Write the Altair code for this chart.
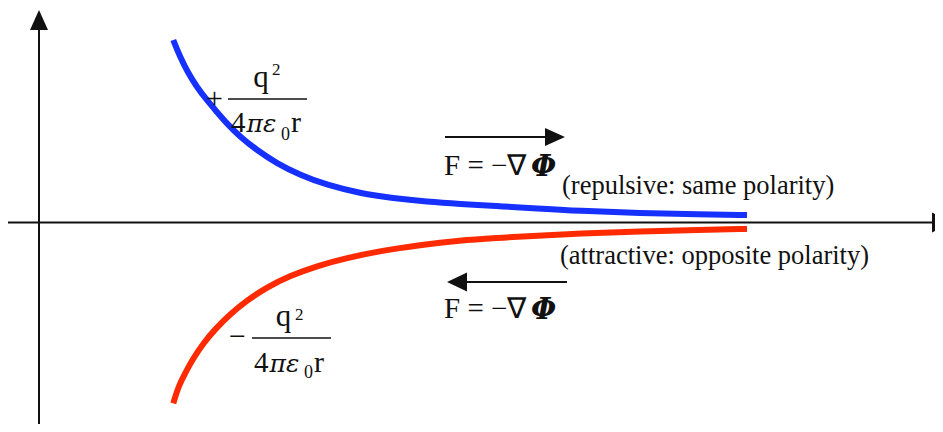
import altair as alt
import pandas as pd

# ---- data (r in 100-px units from the vertical axis, energy in 100-px units) ----
r_repulsive = [1.343, 1.41, 1.493, 1.577, 1.677, 1.777, 1.877, 2.01, 2.177, 2.377, 2.61, 2.877,
               3.21, 3.543, 3.877, 4.21, 4.58, 4.91, 5.41, 6.01, 6.61, 7.08]
u_repulsive = [1.825, 1.658, 1.492, 1.358, 1.225, 1.108, 0.992, 0.858, 0.725, 0.592, 0.475, 0.375,
               0.292, 0.242, 0.208, 0.185, 0.165, 0.145, 0.115, 0.095, 0.08, 0.075]
r_attractive = [1.343, 1.393, 1.46, 1.543, 1.643, 1.76, 1.91, 2.077, 2.277, 2.51, 2.777, 3.077,
                3.41, 3.81, 4.21, 4.58, 4.91, 5.41, 6.01, 6.61, 7.08]
u_attractive = [-1.808, -1.642, -1.508, -1.358, -1.208, -1.068, -0.918, -0.781, -0.649, -0.533, -0.435, -0.355,
                -0.285, -0.225, -0.18, -0.155, -0.135, -0.11, -0.09, -0.072, -0.065]

label_repulsive = "(repulsive: same polarity)"
label_attractive = "(attractive: opposite polarity)"
force_text = "F = \u2212\u2207"
phi_text = "\u03a6"
greek_den = "\u03c0\u03b5"

BLUE = "#1530ff"
RED = "#ff2a00"
INK = "#111111"
SERIF = "Liberation Serif"
GREEK = "DejaVu Serif"

W, H = 927, 416
X_DOM = [-0.31, 8.96]
Y_DOM = [-2.015, 2.145]
xs = alt.Scale(domain=X_DOM, nice=False, zero=False)
ys = alt.Scale(domain=Y_DOM, nice=False, zero=False)

ONE = pd.DataFrame({"k": [0]})


def px_to_r(sx):
    return (sx - 39) / 100.0


def px_to_u(sy):
    return (222.5 - sy) / 100.0


curves = pd.DataFrame({
    "r": r_repulsive + r_attractive,
    "u": u_repulsive + u_attractive,
    "kind": ["repulsive"] * len(r_repulsive) + ["attractive"] * len(r_attractive),
})

curve_layer = alt.Chart(curves).mark_line(strokeWidth=6, interpolate="basis", strokeCap="butt").encode(
    x=alt.X("r:Q", scale=xs, axis=None),
    y=alt.Y("u:Q", scale=ys, axis=None),
    color=alt.Color("kind:N", scale=alt.Scale(domain=["repulsive", "attractive"], range=[BLUE, RED]), legend=None),
    detail="kind:N",
)


def hline(sx1, sx2, sy, width=2.0):
    return alt.Chart(ONE).mark_rule(color=INK, strokeWidth=width).encode(
        x=alt.datum(px_to_r(sx1)), x2=alt.datum(px_to_r(sx2)), y=alt.datum(px_to_u(sy))
    )


def vline(sx, sy1, sy2, width=2.0):
    return alt.Chart(ONE).mark_rule(color=INK, strokeWidth=width).encode(
        x=alt.datum(px_to_r(sx)), y=alt.datum(px_to_u(sy1)), y2=alt.datum(px_to_u(sy2))
    )


def head(sx, sy, path, size=400):
    return alt.Chart(ONE).mark_point(shape=path, size=size, filled=True, color=INK, opacity=1, strokeWidth=0).encode(
        x=alt.datum(px_to_r(sx)), y=alt.datum(px_to_u(sy))
    )


def txt(s, sx, sy, size, align="left", style="normal", weight="normal", font=SERIF):
    return alt.Chart(ONE).mark_text(
        text=s, font=font, fontSize=size, align=align, baseline="alphabetic",
        fontStyle=style, fontWeight=weight, color=INK,
    ).encode(x=alt.datum(px_to_r(sx)), y=alt.datum(px_to_u(sy)))


layers = [
    curve_layer,
    # axes
    hline(8, 935, 222.5, 2.0),
    vline(39, 24, 440, 2.0),
    head(39, 20, "M0,-1L0.9,1L-0.9,1Z", 400),
    head(942, 222.5, "M1,0L-1,-1L-1,1Z", 400),
    # upper fraction
    txt("+", 214.5, 108, 30, align="center"),
    txt("q", 261, 87, 31, align="center"),
    txt("2", 272, 75, 17),
    hline(228, 307, 99, 1.4),
    txt("4", 231, 132, 29),
    txt(greek_den, 246.5, 132, 25, style="italic", font=GREEK),
    txt("0", 281, 140, 18),
    txt("r", 291, 132, 30),
    # lower fraction
    txt("\u2212", 237.5, 346, 30, align="center"),
    txt("q", 283.5, 326, 31, align="center"),
    txt("2", 295, 320, 17),
    hline(252, 331, 338, 1.4),
    txt("4", 254, 372, 29),
    txt(greek_den, 269.5, 372, 25, style="italic", font=GREEK),
    txt("0", 304, 378, 18),
    txt("r", 314, 372, 30),
    # repulsive force arrow + label
    hline(445, 548, 137, 2.0),
    head(555, 137, "M1,0L-1,-0.9L-1,0.9Z", 400),
    txt(force_text, 444, 175, 29),
    txt(phi_text, 531, 176, 29, style="italic", weight="bold", font=GREEK),
    txt(label_repulsive, 562, 194, 26.5),
    # attractive force arrow + label
    hline(464, 567, 282, 2.0),
    head(457, 282, "M-1,0L1,-0.95L1,0.95Z", 400),
    txt(force_text, 444, 318, 29),
    txt(phi_text, 531, 319, 29, style="italic", weight="bold", font=GREEK),
    txt(label_attractive, 560, 264, 26.5),
]

chart = alt.layer(*layers).properties(
    width=W, height=H, autosize=alt.AutoSizeParams(type="none"), padding=0, background="white"
).configure_view(stroke=None)

chart.save("out.html", embed_options={"renderer": "svg", "actions": False})
